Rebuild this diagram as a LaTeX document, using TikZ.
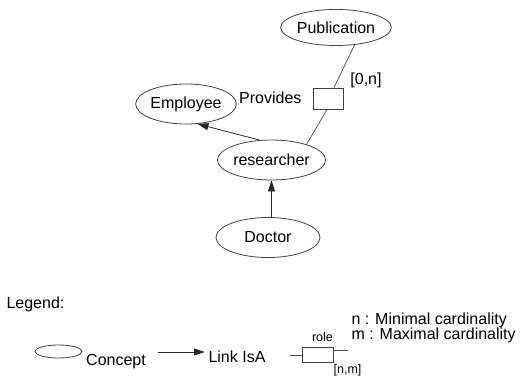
\documentclass[tikz,border=0pt]{standalone}
\usepackage{fontspec}
\setmainfont{Liberation Sans}
\usetikzlibrary{shapes.geometric,arrows.meta}
\begin{document}
\begin{tikzpicture}[x=1pt,y=1pt,
  every node/.style={font=\fontsize{16}{19}\selectfont},
  concept/.style={ellipse,draw=black!75,line width=0.8pt,inner sep=0pt},
  rolebox/.style={rectangle,draw=black!75,line width=0.8pt,inner sep=0pt,fill=white},
  link/.style={draw=black!70,line width=0.7pt},
  isa/.style={draw=black!85,line width=0.8pt,-{Triangle[length=11pt,width=7pt]}},
  small/.style={font=\fontsize{12.5}{15}\selectfont}
]
\useasboundingbox (0,0) rectangle (520,-383);
% main diagram
\node[concept,minimum width=104pt,minimum height=36pt] (pub) at (336,-27.5) {Publication};
\node[concept,minimum width=88pt,minimum height=40pt] (emp) at (186,-104) {Employee};
\node[rolebox,minimum width=30pt,minimum height=21pt] (prov) at (328,-98.5) {};
\node[anchor=east] (provl) at (305,-98) {Provides};
\node (card) at (366,-80) {[0,n]};
\node[concept,minimum width=105pt,minimum height=40pt] (res) at (271.5,-160) {researcher};
\node[concept,minimum width=104pt,minimum height=40pt] (doc) at (268,-237.5) {Doctor};
\draw[link] (pub.-43) -- ([xshift=6pt]prov.north);
\draw[link] ([xshift=-1pt]prov.south) -- (res.24);
\draw[isa] (res.121) -- (emp.-60);
\draw[isa] (doc.north -| res.south) -- (res.south);
% legend
\node[anchor=west] (leg) at (3,-304) {Legend:};
\node[concept,minimum width=47pt,minimum height=13pt] (lc) at (58.5,-351.5) {};
\node (lct) at (116,-362) {Concept};
\coordinate (a1) at (158,-352);
\node (lisa) at (237,-357) {Link IsA};
\draw[isa] (a1) -- (lisa.west |- a1);
\node[rolebox,minimum width=31pt,minimum height=15pt] (lr) at (317.5,-354.5) {};
\coordinate (l1) at (290,-355);
\coordinate (l2) at (348,-350);
\draw[link] (l1) -- (l1 -| lr.west);
\draw[link] (l2 -| lr.east) -- (l2);
\node[small] (lrole) at (322.5,-337) {role};
\node[small] (lnm) at (347.5,-370) {[n,m]};
\node[anchor=west] (ln) at (348,-320) {n : Minimal cardinality};
\node[anchor=west] (lm) at (348,-335) {m : Maximal cardinality};
\end{tikzpicture}
\end{document}
